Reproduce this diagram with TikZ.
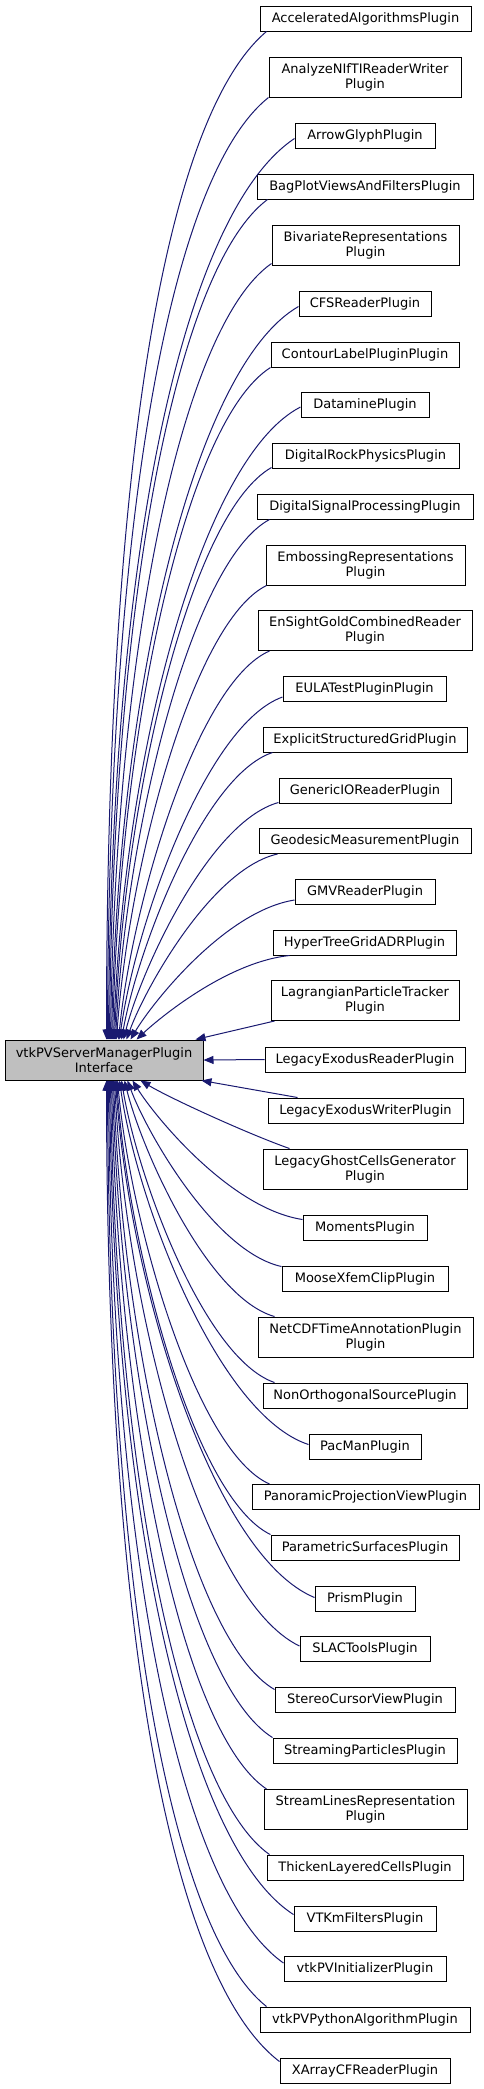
\documentclass[tikz,border=0pt]{standalone}
\usepackage{fontspec}
\setmainfont{DejaVu Sans}
\usetikzlibrary{arrows.meta,calc}
\definecolor{edgeblue}{HTML}{191970}
\definecolor{maingrey}{HTML}{BFBFBF}
\tikzset{
  cls/.style={draw=black, line width=1pt, fill=white, inner sep=0pt, align=center,
              minimum height=25pt, font=\fontsize{13}{15}\selectfont},
  tall/.style={minimum height=40pt},
  edge/.style={draw=edgeblue, line width=1pt, -{Triangle[length=10pt,width=8pt]}},
}
\newcommand\cedge[2]{%
  \draw[edge] let \p1=(#1), \p2=(#2), \n1={\x1-\x2}, \n2={\y1-\y2},
      \n3={min(1,abs(\n2)/1000)} in
    (\p1) .. controls ({\x1-(0.4+0.2*\n3)*\n1},{\y1-0.08*\n2})
             and ({\x2+0.15*(1-\n3)*\n1},{\y2+(0.2+0.4*\n3)*\n2}) .. (\p2);
}
\begin{document}
\begin{tikzpicture}[x=1pt,y=-1pt]
\useasboundingbox (0,0) rectangle (484,2089);
% main node
\node[cls, tall, fill=maingrey, minimum width=198pt] (main) at (104,1060) {vtkPVServerManagerPlugin\\Interface};
% children
\node[cls, minimum width=211pt] (acc) at (365.5,18.5) {AcceleratedAlgorithmsPlugin};
\node[cls, tall, minimum width=192pt] (ana) at (365,77) {AnalyzeNIfTIReaderWriter\\Plugin};
\node[cls, minimum width=140pt] (arr) at (365,135.5) {ArrowGlyphPlugin};
\node[cls, minimum width=216pt] (bag) at (365,186.5) {BagPlotViewsAndFiltersPlugin};
\node[cls, tall, minimum width=187pt] (biv) at (365.5,245) {BivariateRepresentations\\Plugin};
\node[cls, minimum width=132pt] (cfs) at (365,303.5) {CFSReaderPlugin};
\node[cls, minimum width=188pt] (con) at (365,354.5) {ContourLabelPluginPlugin};
\node[cls, minimum width=128pt] (dat) at (365,405) {DataminePlugin};
\node[cls, minimum width=187pt] (dro) at (365.5,455.5) {DigitalRockPhysicsPlugin};
\node[cls, minimum width=216pt] (dsp) at (365,506.5) {DigitalSignalProcessingPlugin};
\node[cls, tall, minimum width=199pt] (emb) at (365.5,565) {EmbossingRepresentations\\Plugin};
\node[cls, tall, minimum width=214pt] (ens) at (365,630.5) {EnSightGoldCombinedReader\\Plugin};
\node[cls, minimum width=163pt] (eula) at (364.5,689) {EULATestPluginPlugin};
\node[cls, minimum width=204pt] (esg) at (365,739.5) {ExplicitStructuredGridPlugin};
\node[cls, minimum width=172pt] (gio) at (365,790.5) {GenericIOReaderPlugin};
\node[cls, minimum width=212pt] (geo) at (365,841) {GeodesicMeasurementPlugin};
\node[cls, minimum width=140pt] (gmv) at (365,892) {GMVReaderPlugin};
\node[cls, minimum width=183pt] (htg) at (364.5,942.5) {HyperTreeGridADRPlugin};
\node[cls, tall, minimum width=188pt] (lag) at (365,1000.5) {LagrangianParticleTracker\\Plugin};
\node[cls, minimum width=200pt] (ler) at (365,1059.5) {LegacyExodusReaderPlugin};
\node[cls, minimum width=195pt] (lew) at (365.5,1110.5) {LegacyExodusWriterPlugin};
\node[cls, tall, minimum width=204pt] (lgc) at (365,1169) {LegacyGhostCellsGenerator\\Plugin};
\node[cls, minimum width=124pt] (mom) at (365,1227.5) {MomentsPlugin};
\node[cls, minimum width=166pt] (mxc) at (365,1278.5) {MooseXfemClipPlugin};
\node[cls, tall, minimum width=215pt] (ncdf) at (365.5,1337) {NetCDFTimeAnnotationPlugin\\Plugin};
\node[cls, minimum width=204pt] (non) at (365,1395.5) {NonOrthogonalSourcePlugin};
\node[cls, minimum width=112pt] (pac) at (365,1446.5) {PacManPlugin};
\node[cls, minimum width=227pt] (pan) at (365.5,1497) {PanoramicProjectionViewPlugin};
\node[cls, minimum width=188pt] (par) at (365,1547.5) {ParametricSurfacesPlugin};
\node[cls, minimum width=100pt] (pri) at (365,1598.5) {PrismPlugin};
\node[cls, minimum width=130pt] (slac) at (365,1649) {SLACToolsPlugin};
\node[cls, minimum width=180pt] (ste) at (365,1699.5) {StereoCursorViewPlugin};
\node[cls, minimum width=184pt] (stp) at (365,1750.5) {StreamingParticlesPlugin};
\node[cls, tall, minimum width=203pt] (stl) at (365.5,1809.5) {StreamLinesRepresentation\\Plugin};
\node[cls, minimum width=196pt] (thk) at (365,1867.5) {ThickenLayeredCellsPlugin};
\node[cls, minimum width=142pt] (vtkm) at (365,1918.5) {VTKmFiltersPlugin};
\node[cls, minimum width=162pt] (ini) at (365,1969) {vtkPVInitializerPlugin};
\node[cls, minimum width=210pt] (pyt) at (365,2019.5) {vtkPVPythonAlgorithmPlugin};
\node[cls, minimum width=170pt] (xar) at (365,2070.5) {XArrayCFReaderPlugin};
% upper edges
\cedge{[xshift=7pt]acc.south west}{[xshift=102pt]main.north west}
\cedge{ana.south west}{[xshift=103pt]main.north west}
\cedge{[yshift=10pt]arr.south west}{[xshift=104pt]main.north west}
\cedge{[xshift=11pt]bag.south west}{[xshift=105pt]main.north west}
\cedge{[yshift=2pt]biv.south west}{[xshift=106pt]main.north west}
\cedge{[yshift=10pt]cfs.south west}{[xshift=107pt]main.north west}
\cedge{con.south west}{[xshift=108pt]main.north west}
\cedge{[yshift=11pt]dat.south west}{[xshift=109pt]main.north west}
\cedge{[yshift=1pt]dro.south west}{[xshift=110pt]main.north west}
\cedge{[xshift=13pt]dsp.south west}{[xshift=111pt]main.north west}
\cedge{[xshift=1pt]emb.south west}{[xshift=112pt]main.north west}
\cedge{[xshift=12pt]ens.south west}{[xshift=114pt]main.north west}
\cedge{[yshift=5pt]eula.south west}{[xshift=115pt]main.north west}
\cedge{[xshift=10pt]esg.south west}{[xshift=117pt]main.north west}
\cedge{[yshift=1pt]gio.south west}{[xshift=119pt]main.north west}
\cedge{[xshift=19pt]geo.south west}{[xshift=122pt]main.north west}
\cedge{[yshift=5pt]gmv.south west}{[xshift=126pt]main.north west}
\cedge{[xshift=17pt]htg.south west}{[xshift=132pt]main.north west}
% near edges
\draw[edge] ([xshift=4pt]lag.south west) -- ([xshift=-8pt]main.north east);
\draw[edge] (ler.west) -- (main.east);
\draw[edge] ([xshift=30pt]lew.north west) -- ([xshift=-2pt]main.south east);
\draw[edge] ([xshift=27pt]lgc.north west) .. controls +(-40,-14) and +(30,18) .. ([xshift=136pt]main.south west);
% lower edges
\cedge{[yshift=-5pt]mom.north west}{[xshift=128pt]main.south west}
\cedge{[yshift=-1pt]mxc.north west}{[xshift=123pt]main.south west}
\cedge{[xshift=17pt]ncdf.north west}{[xshift=120pt]main.south west}
\cedge{[xshift=12pt]non.north west}{[xshift=117pt]main.south west}
\cedge{[yshift=-11pt]pac.north west}{[xshift=115pt]main.south west}
\cedge{[xshift=18pt]pan.north west}{[xshift=113pt]main.south west}
\cedge{par.north west}{[xshift=112pt]main.south west}
\cedge{[yshift=-12pt]pri.north west}{[xshift=111pt]main.south west}
\cedge{[yshift=-10pt]slac.north west}{[xshift=110pt]main.south west}
\cedge{[yshift=-3pt]ste.north west}{[xshift=109pt]main.south west}
\cedge{stp.north west}{[xshift=108pt]main.south west}
\cedge{[xshift=3pt]stl.north west}{[xshift=107pt]main.south west}
\cedge{[xshift=3pt]thk.north west}{[xshift=106pt]main.south west}
\cedge{[yshift=-9pt]vtkm.north west}{[xshift=105pt]main.south west}
\cedge{[yshift=-7pt]ini.north west}{[xshift=104pt]main.south west}
\cedge{[xshift=7pt]pyt.north west}{[xshift=103pt]main.south west}
\cedge{[yshift=-4pt]xar.north west}{[xshift=102pt]main.south west}
\end{tikzpicture}
\end{document}
